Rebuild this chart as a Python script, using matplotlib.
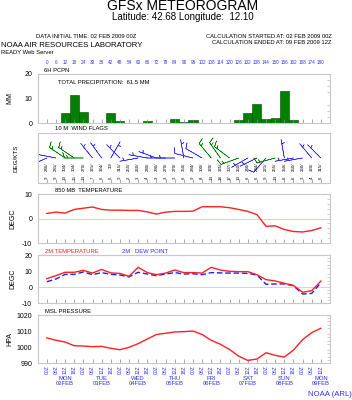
import matplotlib
matplotlib.use('Agg')
import matplotlib.pyplot as plt
import matplotlib.transforms as mtransforms
import numpy as np

# ---------------- data ----------------
hours = list(range(0, 181, 6))
hour_labels = [str(h) for h in hours]
time_labels = ['00Z', '06Z', '12Z', '18Z'] * 7 + ['00Z', '06Z', '12Z']
day_hours = [12, 36, 60, 84, 108, 132, 156, 180]
day_labels = ['MON\n02FEB', 'TUE\n03FEB', 'WED\n04FEB', 'THU\n05FEB',
              'FRI\n06FEB', 'SAT\n07FEB', 'SUN\n08FEB', 'MON\n09FEB']

precip_hours = [12, 18, 24, 36, 42, 48, 66, 84, 90, 96, 126, 132, 138, 144, 150, 156, 162]
precip_mm = [4.2, 11.5, 4.4, 0.1, 4.2, 1.0, 0.9, 1.8, 0.4, 1.2, 1.2, 4.2, 7.7, 1.7, 2.0, 13.2, 1.4]

wind_dir = [246, 281, 304, 304, 270, 321, 324, 30, 315, 255, 260, 280, 290, 270, 270, 350,
            284, 300, 320, 325, 307, 250, 240, 244, 221, 255, 350, 260, 260, 320, 315]
wind_spd = [9, 9, 13, 15, 13, 7, 6, 6, 3, 2, 3, 4, 3, 3, 3, 6,
            9, 8, 13, 16, 17, 13, 6, 6, 9, 13, 6, 6, 3, 4, 6]

t850 = [2.05, 2.6, 2.2, 3.7, 4.2, 4.7, 3.7, 3.4, 3.4, 3.3, 3.3, 2.7, 1.8, 2.6, 2.9, 2.9,
        3.0, 4.8, 4.8, 4.8, 4.4, 3.7, 2.9, 1.6, -3.2, -3.0, -4.5, -5.3, -5.5, -4.9, -3.8]
t2m = [5.2, 7.1, 9.2, 9.2, 10.4, 8.7, 11.0, 8.8, 8.5, 6.7, 12.3, 9.0, 7.7, 8.7, 10.6, 9.0,
       9.0, 8.7, 12.3, 10.6, 9.8, 9.6, 9.6, 7.7, 4.6, 3.8, 2.3, 1.0, -3.3, -2.3, 3.7]
td2m = [3.3, 5.0, 7.9, 7.9, 9.4, 7.7, 9.0, 7.9, 7.5, 6.3, 9.2, 8.1, 7.1, 8.1, 9.0, 8.1,
        8.3, 7.7, 9.0, 8.8, 8.7, 8.7, 8.5, 7.5, 1.7, 1.9, 1.9, 0.8, -4.4, -4.0, 2.7]
mslp = [1005.7, 1004.2, 1003.1, 1000.8, 1000.6, 1000.2, 1000.4, 999.2, 998.3, 999.8,
        1002.1, 1005.0, 1007.8, 1008.6, 1009.4, 1009.6, 1010.0, 1007.8, 1004.2, 1001.7,
        998.5, 994.3, 991.6, 992.5, 996.4, 994.8, 993.7, 998.1, 1004.6, 1009.0, 1011.7]

# ---------------- style ----------------
plt.rcParams['font.family'] = ['Liberation Sans', 'DejaVu Sans']
BLUE = '#3030ff'
RED = '#ff2020'
GREEN = '#008000'
GRID = '#c8c8c8'

W, H = 352, 400
fig = plt.figure(figsize=(W / 100, H / 100), dpi=100)

def box(top, bottom, left=37.7, right=330.0):
    return [left / W, 1 - bottom / H, (right - left) / W, (bottom - top) / H]

def style(ax, ylim, yticks, minor):
    ax.set_xlim(-6, 186)
    ax.set_ylim(*ylim)
    for s in ax.spines.values():
        s.set_color(GRID)
        s.set_linewidth(0.8)
    ax.set_xticks(hours)
    ax.tick_params(axis='x', direction='in', length=3, color='#888888', width=0.5,
                   labelbottom=False, bottom=True, top=False)
    ax.set_yticks(yticks)
    ax.set_yticklabels([str(v) for v in yticks], fontsize=5)
    ax.tick_params(axis='y', direction='in', length=0, pad=4, labelsize=5)
    ax.set_yticks(minor, minor=True)
    ax.tick_params(axis='y', which='minor', direction='in', length=2, color='#aaaaaa',
                   width=0.4, left=False, right=True)

# ---- header ----
fig.text(183 / W, 1 - 5.5 / H, 'GFSx METEOROGRAM', ha='center', va='center', fontsize=10)
fig.text(183 / W, 1 - 16.5 / H, 'Latitude: 42.68 Longitude:  12.10', ha='center', va='center', fontsize=7)
fig.text(86 / W, 1 - 36 / H, 'DATA INITIAL TIME: 02 FEB 2009 00Z', ha='center', va='center', fontsize=4.2)
fig.text(332 / W, 1 - 36 / H, 'CALCULATION STARTED AT: 02 FEB 2009 00Z', ha='right', va='center', fontsize=4.2)
fig.text(332 / W, 1 - 43 / H, 'CALCULATION ENDED AT: 09 FEB 2009 12Z', ha='right', va='center', fontsize=4.2)
fig.text(1 / W, 1 - 45.5 / H, 'NOAA AIR RESOURCES LABORATORY', ha='left', va='center', fontsize=5.6)
fig.text(1 / W, 1 - 52.5 / H, 'READY Web Server', ha='left', va='center', fontsize=4.2)
fig.text(352 / W, 1 - 395 / H, 'NOAA (ARL)', ha='right', va='center', fontsize=5.6, color=BLUE)

# ---- panel 1: precipitation ----
ax1 = fig.add_axes(box(74, 123))
style(ax1, (0, 20), [0, 10, 20], np.arange(0, 21, 2.5))
ax1.bar(precip_hours, precip_mm, width=6, color=GREEN, edgecolor='#004400', linewidth=0.4)
ax1.set_ylabel('MM', fontsize=5, labelpad=8)
ax1.text(0.02, 1.02, '6H PCPN', transform=ax1.transAxes, fontsize=4.2, va='bottom')
ax1.text(0.07, 0.83, 'TOTAL PRECIPITATION:  61.5 MM', transform=ax1.transAxes, fontsize=4.2, va='center')
tr = mtransforms.blended_transform_factory(ax1.transData, fig.transFigure)
for h, lab in zip(hours, hour_labels):
    ax1.text(h, 1 - 62 / H, lab, transform=tr, ha='center', va='center', fontsize=3.3, color=BLUE)

# ---- panel 2: wind flags ----
ax2 = fig.add_axes(box(133, 183))
style(ax2, (0, 1), [], [])
ax2.set_yticks([])
ax2.set_yticks([], minor=True)
ax2.set_ylabel('DEG/KTS', fontsize=4.5, labelpad=14)
ax2.text(0.06, 1.03, '10 M  WIND FLAGS', transform=ax2.transAxes, fontsize=4.2, va='bottom')
d = np.radians(wind_dir)
s = np.array(wind_spd, float)
u = -s * np.sin(d)
v = -s * np.cos(d)
cols = [GREEN if sp >= 10 else BLUE for sp in wind_spd]
ax2.barbs(hours, [0.50] * len(hours), u, v, length=5.2, linewidth=0.4, color=cols,
          sizes=dict(emptybarb=0.0, spacing=0.16, height=0.3, width=0.2))
for h, dd, sp in zip(hours, wind_dir, wind_spd):
    ax2.text(h, 0.41, '%d/' % dd, rotation=90, ha='center', va='top', fontsize=3.2)
    ax2.text(h, 0.11, '%d' % sp, rotation=90, ha='center', va='center', fontsize=3.2)

# ---- panel 3: 850 mb temp ----
ax3 = fig.add_axes(box(194, 243))
style(ax3, (-10, 10), [-10, 0, 10], np.arange(-10, 11, 2))
ax3.axhline(0, color='#c8c8ff', lw=0.6)
ax3.plot(hours, t850, color=RED, lw=1.0)
ax3.set_ylabel('DEGC', fontsize=5, labelpad=4)
ax3.text(0.06, 1.02, '850 MB  TEMPERATURE', transform=ax3.transAxes, fontsize=4.2, va='bottom')

# ---- panel 4: 2m temp / dew point ----
ax4 = fig.add_axes(box(255, 303))
style(ax4, (-10, 20), [-10, 0, 10, 20], np.arange(-10, 21, 2))
ax4.axhline(0, color='#c8c8ff', lw=0.6)
ax4.plot(hours, td2m, color='#2020ff', lw=1.0, dashes=(4, 2))
ax4.plot(hours, t2m, color=RED, lw=1.0)
ax4.set_ylabel('DEGC', fontsize=5, labelpad=4)
ax4.text(0.026, 1.02, '2M TEMPERATURE', transform=ax4.transAxes, fontsize=4.2, va='bottom', color=RED)
ax4.text(0.29, 1.02, '2M   DEW POINT', transform=ax4.transAxes, fontsize=4.2, va='bottom', color=BLUE)

# ---- panel 5: MSL pressure ----
ax5 = fig.add_axes(box(315, 363))
style(ax5, (990, 1020), [990, 1000, 1010, 1020], np.arange(990, 1021, 2))
ax5.plot(hours, mslp, color=RED, lw=1.0)
ax5.set_ylabel('HPA', fontsize=5, labelpad=2)
ax5.text(0.026, 1.02, 'MSL PRESSURE', transform=ax5.transAxes, fontsize=4.2, va='bottom')
ax5.tick_params(axis='x', labelbottom=True, labelsize=3.6, labelcolor=BLUE, pad=1.5)
ax5.set_xticklabels(time_labels, rotation=90)
for h, lab in zip(day_hours, day_labels):
    ax5.text(h, -0.28, lab, transform=ax5.get_xaxis_transform(), ha='center', va='top',
             fontsize=4.2, color=BLUE, linespacing=0.95)

fig.savefig('out.png', dpi=100)
